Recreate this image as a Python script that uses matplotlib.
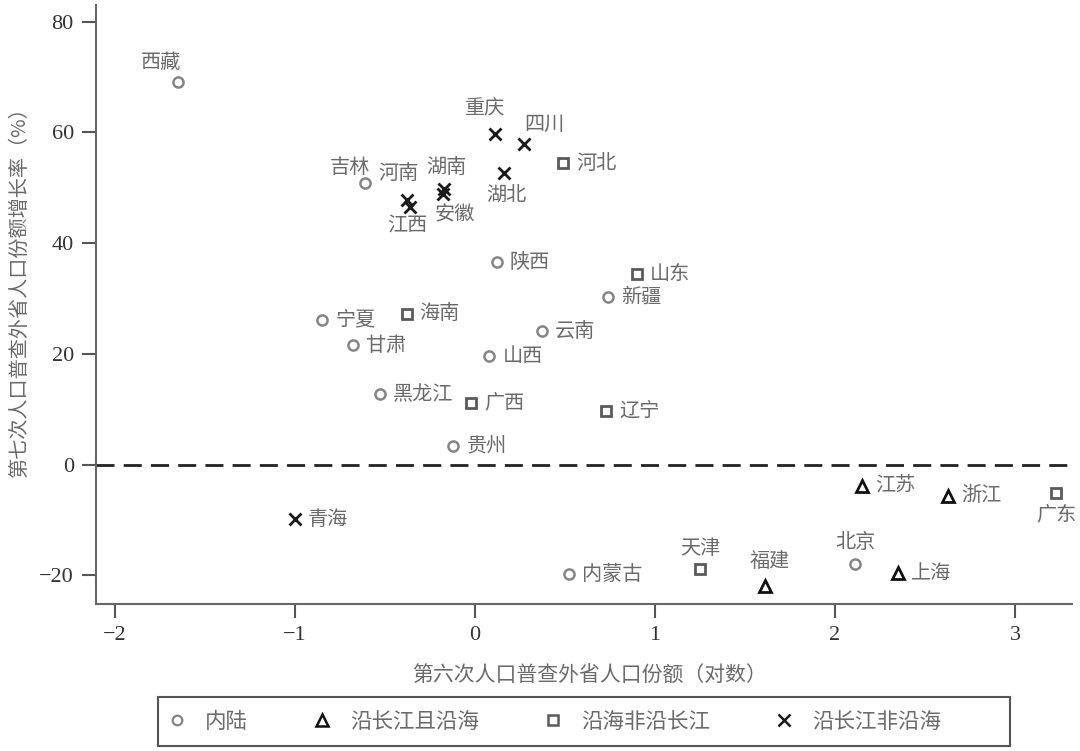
import matplotlib
matplotlib.use("Agg")
import matplotlib.pyplot as plt
from matplotlib.lines import Line2D
from matplotlib.patches import Rectangle

plt.rcParams['font.family'] = ['Noto Sans CJK SC', 'DejaVu Sans']
plt.rcParams['axes.unicode_minus'] = True

# provinces, x = log share of migrants (2010 census), y = growth of share (%)
names = ['西藏', '重庆', '四川', '河北', '吉林', '河南', '江西', '湖南', '安徽', '湖北',
         '陕西', '山东', '新疆', '宁夏', '海南', '云南', '甘肃', '山西', '黑龙江', '广西',
         '辽宁', '贵州', '江苏', '浙江', '广东', '青海', '内蒙古', '天津', '福建', '北京', '上海']
x_vals = [-1.65, 0.11, 0.27, 0.49, -0.61, -0.38, -0.36, -0.17, -0.18, 0.16,
          0.12, 0.90, 0.74, -0.85, -0.38, 0.37, -0.68, 0.08, -0.53, -0.02,
          0.73, -0.12, 2.15, 2.63, 3.23, -1.00, 0.52, 1.25, 1.61, 2.11, 2.35]
y_vals = [69.1, 59.7, 57.9, 54.4, 50.8, 47.8, 46.6, 49.7, 48.8, 52.6,
          36.5, 34.4, 30.2, 26.1, 27.2, 24.1, 21.5, 19.6, 12.7, 11.1,
          9.6, 3.3, -3.8, -5.6, -5.2, -9.9, -19.8, -18.8, -21.9, -18.0, -19.6]
groups = ['内陆', '沿长江非沿海', '沿长江非沿海', '沿海非沿长江', '内陆', '沿长江非沿海',
          '沿长江非沿海', '沿长江非沿海', '沿长江非沿海', '沿长江非沿海',
          '内陆', '沿海非沿长江', '内陆', '内陆', '沿海非沿长江', '内陆', '内陆', '内陆',
          '内陆', '沿海非沿长江', '沿海非沿长江', '内陆', '沿长江且沿海', '沿长江且沿海',
          '沿海非沿长江', '沿长江非沿海', '内陆', '沿海非沿长江', '沿长江且沿海', '内陆',
          '沿长江且沿海']
group_order = ['内陆', '沿长江且沿海', '沿海非沿长江', '沿长江非沿海']

# marker styles per group
styles = {
    '内陆': dict(marker='o', ms=7.3, mew=1.8, color='#858585'),
    '沿长江且沿海': dict(marker='^', ms=9, mew=2.0, color='#111111'),
    '沿海非沿长江': dict(marker='s', ms=7.5, mew=2.0, color='#5a5a5a'),
    '沿长江非沿海': dict(marker='x', ms=9, mew=2.0, color='#1a1a1a'),
}

# label offsets in pixels (dx, dy); default is to the right of the point
label_pos = {
    '西藏': (-17, 20), '重庆': (-10, 25), '四川': (21, 20), '吉林': (-15, 16),
    '河南': (-8, 26), '湖南': (2, 22), '江西': (-3, -19), '安徽': (12, -21),
    '湖北': (3, -22), '广东': (0, -22), '天津': (0, 20), '福建': (5, 24),
    '北京': (1, 22),
}

fig = plt.figure(figsize=(10.8, 7.51), dpi=100)
ax = fig.add_axes([0.0889, 0.1957, 0.9037, 0.7976])

ax.axhline(0, color='#222222', lw=2, dashes=(6.5, 3.3), zorder=1)

for g in group_order:
    st = styles[g]
    xs = [x for x, gg in zip(x_vals, groups) if gg == g]
    ys = [y for y, gg in zip(y_vals, groups) if gg == g]
    ax.plot(xs, ys, linestyle='none', marker=st['marker'], ms=st['ms'], mew=st['mew'],
            mec=st['color'], mfc='none', zorder=3)

for n, x, y in zip(names, x_vals, y_vals):
    if n in label_pos:
        dx, dy = label_pos[n]
        ax.annotate(n, (x, y), xytext=(dx, dy), textcoords='offset pixels',
                    ha='center', va='center', fontsize=14.5, color='#6a6a6a')
    else:
        ax.annotate(n, (x, y), xytext=(13, 0), textcoords='offset pixels',
                    ha='left', va='center', fontsize=14.5, color='#6a6a6a')

ax.set_xlim(-2.106, 3.317)
ax.set_ylim(-25.2, 83.0)
ax.set_xticks([-2, -1, 0, 1, 2, 3])
ax.set_yticks([-20, 0, 20, 40, 60, 80])
for lab in ax.get_xticklabels() + ax.get_yticklabels():
    lab.set_fontfamily('Liberation Serif')
    lab.set_fontsize(16)
    lab.set_color('#333333')
ax.tick_params(length=10, width=1.5, color='#555555', pad=6)

ax.spines['top'].set_visible(False)
ax.spines['right'].set_visible(False)
for s in ['left', 'bottom']:
    ax.spines[s].set_color('#666666')
    ax.spines[s].set_linewidth(1.5)

ax.set_xlabel('第六次人口普查外省人口份额（对数）', fontsize=15, color='#6a6a6a')
ax.xaxis.set_label_coords(0.506, -0.102)
ax.set_ylabel('第七次人口普查外省人口份额增长率（%）', fontsize=14.5, color='#6a6a6a')
ax.yaxis.set_label_coords(-0.068, 0.529)

# legend: frame drawn separately so its width matches the reference
fig.patches.append(Rectangle((158 / 1080, 5 / 751), 852 / 1080, 49 / 751,
                             transform=fig.transFigure, fill=False,
                             edgecolor='#555555', linewidth=1.5))
handles = [Line2D([], [], linestyle='none', marker=styles[g]['marker'],
                  ms=styles[g]['ms'] * 0.95, mew=styles[g]['mew'] * 0.9,
                  mec=styles[g]['color'], mfc='none') for g in group_order]
fig.legend(handles, group_order, loc='center left', bbox_to_anchor=(166 / 1080, 29.5 / 751),
           ncol=4, frameon=False, fontsize=15.5, borderpad=0, borderaxespad=0,
           columnspacing=2.94, handletextpad=0.8, handlelength=1.0,
           labelcolor='#6a6a6a')

fig.savefig('out.png', dpi=100)
